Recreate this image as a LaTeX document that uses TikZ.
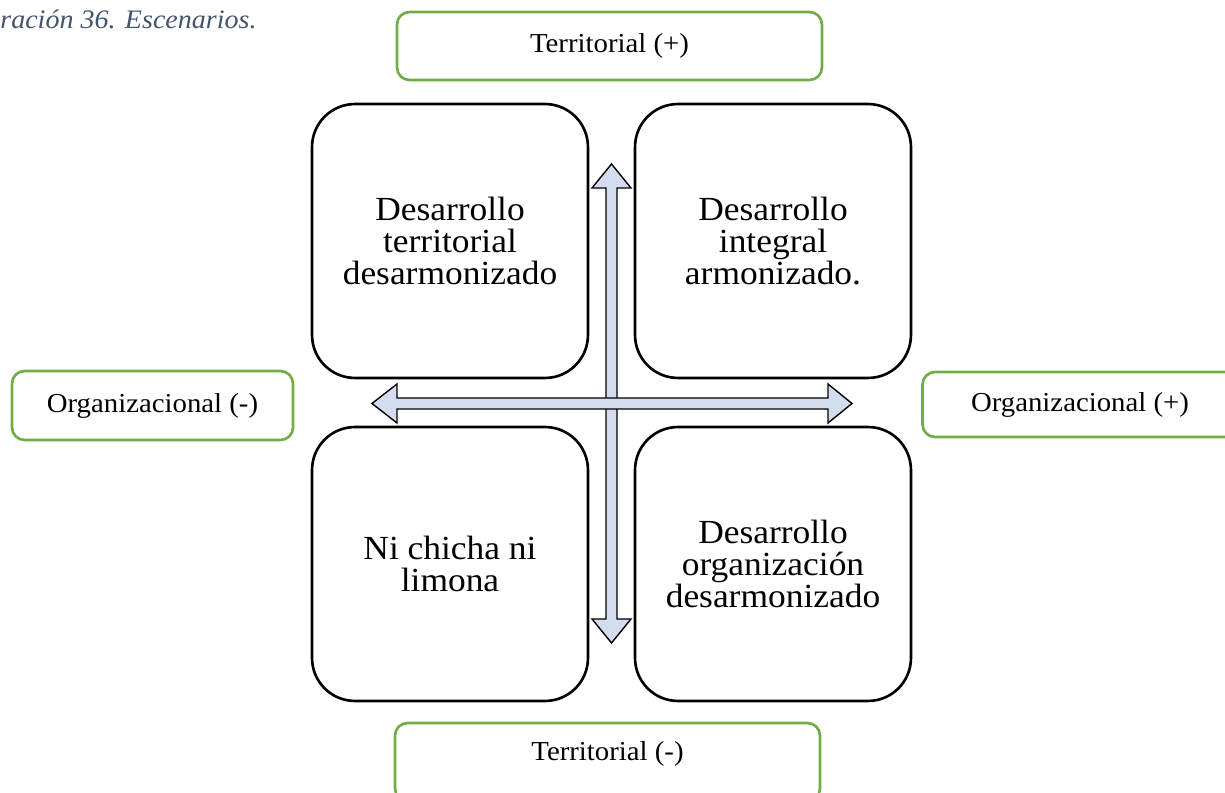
\documentclass[tikz,border=0pt]{standalone}
\usepackage{fontspec}
\setmainfont{Liberation Serif}[FakeStretch=1.05]
\usetikzlibrary{positioning,calc}
\usepackage{xcolor}
\definecolor{verde}{HTML}{70AD47}
\definecolor{flecha}{HTML}{D3DDEF}
\definecolor{gristitulo}{HTML}{44546A}

\begin{document}
\begin{tikzpicture}[x=0.02cm,y=-0.02cm,
    scenbox/.style={draw, line width=1.5pt, rounded corners=0.86cm, minimum width=5.52cm, minimum height=5.48cm, align=center, font=\fontsize{19.2}{18.2}\selectfont},
    ejebox/.style={draw=verde, line width=1.5pt, rounded corners=0.25cm, align=center, font=\fontsize{15.6}{17}\selectfont},
    arrowbody/.style={draw, line width=0.8pt, fill=flecha, line join=miter}]
            \useasboundingbox (0,0) rectangle (1225,793);
            \clip (0,0) rectangle (1225,793);
            % Caption
            \node[anchor=base west, inner sep=0pt, text=gristitulo, font=\fontsize{15.2}{17}\selectfont\itshape] (titulo) at (0,29) {ración 36. Escenarios.};

            % Axes
            \draw[arrowbody] (611.5,164) -- (631,188) -- (617,188) -- (617,619) -- (631,619) -- (611.5,643) -- (592,619) -- (606,619) -- (606,188) -- (592,188) -- cycle;
            \draw[arrowbody] (372,403.5) -- (397,384) -- (397,398) -- (828,398) -- (828,384) -- (852,403.5) -- (828,423) -- (828,409) -- (397,409) -- (397,423) -- cycle;
            \fill[flecha] (606.6,398.6) rectangle (616.4,408.4);

            % Scenarios
            \node[scenbox] (desterr) at (450,241) {Desarrollo\\territorial\\desarmonizado};
            \node[scenbox] (desint) at (773,241) {Desarrollo\\integral\\armonizado.};
            \node[scenbox] (nichicha) at (450,564) {Ni chicha ni\\limona};
            \node[scenbox] (desorg) at (773,564) {Desarrollo\\organización\\desarmonizado};

            % Axis labels
            \node[ejebox, minimum width=8.5cm, minimum height=1.36cm] (terrpos) at (609.5,46) {Territorial (+)};
            \node[ejebox, minimum width=5.62cm, minimum height=1.38cm] (orgneg) at (152.5,405.5) {Organizacional (-)};
            \node[ejebox, minimum width=6.3cm, minimum height=1.3cm] (orgpos) at (1080,404.5) {Organizacional (+)};
            \node[ejebox, minimum width=8.5cm, minimum height=1.56cm, text depth=12.3pt] (terrneg) at (607.5,762) {Territorial (-)};
\end{tikzpicture}
\end{document}
